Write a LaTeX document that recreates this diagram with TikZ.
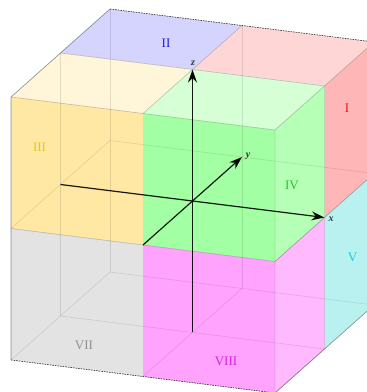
\documentclass[tikz,border=0pt]{standalone}
\usepackage{fontspec}
\setmainfont{Liberation Serif}
\usetikzlibrary{arrows.meta}
\definecolor{topI}{HTML}{FFD6D6}
\definecolor{sideI}{HTML}{FFB6B6}
\definecolor{topII}{HTML}{D4D4FF}
\definecolor{topIII}{HTML}{FFF5D9}
\definecolor{frontIII}{HTML}{FFE8A3}
\definecolor{topIV}{HTML}{D6FFD6}
\definecolor{frontIV}{HTML}{A3FFA3}
\definecolor{sideIV}{HTML}{B6FFB6}
\definecolor{sideV}{HTML}{B9F1F1}
\definecolor{frontVII}{HTML}{E3E3E3}
\definecolor{frontVIII}{HTML}{FFA3FF}
\definecolor{sideVIII}{HTML}{FFB9FF}
\definecolor{labI}{HTML}{F01818}
\definecolor{labII}{HTML}{2020E0}
\definecolor{labIII}{HTML}{E8C820}
\definecolor{labIV}{HTML}{20C820}
\definecolor{labV}{HTML}{20C8D8}
\definecolor{labVII}{HTML}{909090}
\definecolor{labVIII}{HTML}{D820D8}
\tikzset{
  faint/.style={draw=black,draw opacity=.11,line width=.6pt},
  edgeline/.style={draw=black!80,draw opacity=.55,line width=.6pt},
  dashline/.style={draw=black!85,line width=.6pt,dash pattern=on 1.6pt off 1pt},
  axisline/.style={draw=black,draw opacity=.9,line width=1.2pt,-{Stealth[length=13pt,width=9pt]}},
  octlabel/.style={font=\fontsize{13}{15}\selectfont},
  axlabel/.style={font=\fontsize{10}{11}\selectfont\bfseries\itshape,text=black!80,inner sep=0pt}
}
\begin{document}
\begin{tikzpicture}[x=1pt,y=1pt]
\path[use as bounding box] (0,0) rectangle (367,392);
\clip (0,0) rectangle (367,392);
\begin{scope}[shift={(192.5,191)},x={(132pt,-16.5pt)},y={(49.5pt,44pt)},z={(0pt,131.5pt)}]
  % top faces
  \fill[topII] (-1,0,1) -- (0,0,1) -- (0,1,1) -- (-1,1,1) -- cycle;
  \fill[topI] (0,0,1) -- (1,0,1) -- (1,1,1) -- (0,1,1) -- cycle;
  \fill[topIII] (-1,-1,1) -- (0,-1,1) -- (0,0,1) -- (-1,0,1) -- cycle;
  \fill[topIV] (0,-1,1) -- (1,-1,1) -- (1,0,1) -- (0,0,1) -- cycle;
  % front faces
  \fill[frontIII] (-1,-1,0) -- (0,-1,0) -- (0,-1,1) -- (-1,-1,1) -- cycle;
  \fill[frontIV] (0,-1,0) -- (1,-1,0) -- (1,-1,1) -- (0,-1,1) -- cycle;
  \fill[frontVII] (-1,-1,-1) -- (0,-1,-1) -- (0,-1,0) -- (-1,-1,0) -- cycle;
  \fill[frontVIII] (0,-1,-1) -- (1,-1,-1) -- (1,-1,0) -- (0,-1,0) -- cycle;
  % right faces
  \fill[sideI] (1,0,0) -- (1,1,0) -- (1,1,1) -- (1,0,1) -- cycle;
  \fill[sideIV] (1,-1,0) -- (1,0,0) -- (1,0,1) -- (1,-1,1) -- cycle;
  \fill[sideV] (1,0,-1) -- (1,1,-1) -- (1,1,0) -- (1,0,0) -- cycle;
  \fill[sideVIII] (1,-1,-1) -- (1,0,-1) -- (1,0,0) -- (1,-1,0) -- cycle;
  % see-through grid
  \path[faint] (-1,0,1) -- (-1,0,-1) (-1,1,1) -- (-1,1,-1) (0,1,1) -- (0,1,-1);
  \path[faint] (-1,-1,0) -- (-1,1,0) -- (1,1,0) (1,-1,0) -- (1,1,0);
  \path[faint] (-1,-1,-1) -- (-1,1,-1) -- (1,1,-1);
  \path[faint] (-1,0,-1) -- (1,0,-1) (0,-1,-1) -- (0,1,-1);
  \path[faint] (1,0,1) -- (1,0,-1) (1,-1,1) -- (1,-1,-1) (1,-1,-1) -- (1,0,-1);
  % face borders
  \path[edgeline,draw opacity=.28] (-1,0,1) -- (1,0,1) (0,-1,1) -- (0,1,1) (-1,-1,1) -- (1,-1,1) (1,-1,1) -- (1,1,1);
  \path[edgeline,draw opacity=.28] (-1,-1,0) -- (1,-1,0) -- (1,1,0);
  % outer edges
  \path[edgeline] (-1,-1,-1) -- (-1,-1,1) -- (-1,1,1);
  \path[edgeline] (1,-1,-1) -- (1,1,-1);
  \path[dashline] (-1,1,1) -- (1,1,1);
  \path[dashline] (-1,-1,-1) -- (1,-1,-1);
  % axes
  \coordinate (xa) at (-1,0,0); \coordinate (xb) at (1,0,0);
  \coordinate (ya) at (0,-1,0); \coordinate (yb) at (0,1,0);
  \coordinate (za) at (0,0,-1); \coordinate (zb) at (0,0,1);
  \draw[axisline] (xa) -- (xb);
  \draw[axisline] (ya) -- (yb);
  \draw[axisline] (za) -- (zb);
\end{scope}
\node[axlabel] (lx) at (331,173) {x};
\node[axlabel] (ly) at (248,236) {y};
\node[axlabel] (lz) at (193,329) {z};
\node[octlabel,text=labI] (n1) at (347,284) {I};
\node[octlabel,text=labII] (n2) at (166,349) {II};
\node[octlabel,text=labIII] (n3) at (39.5,245) {III};
\node[octlabel,text=labIV] (n4) at (292,207) {IV};
\node[octlabel,text=labV] (n5) at (352.5,135) {V};
\node[octlabel,text=labVII] (n7) at (84,47) {VII};
\node[octlabel,text=labVIII] (n8) at (226,31) {VIII};
\end{tikzpicture}
\end{document}
